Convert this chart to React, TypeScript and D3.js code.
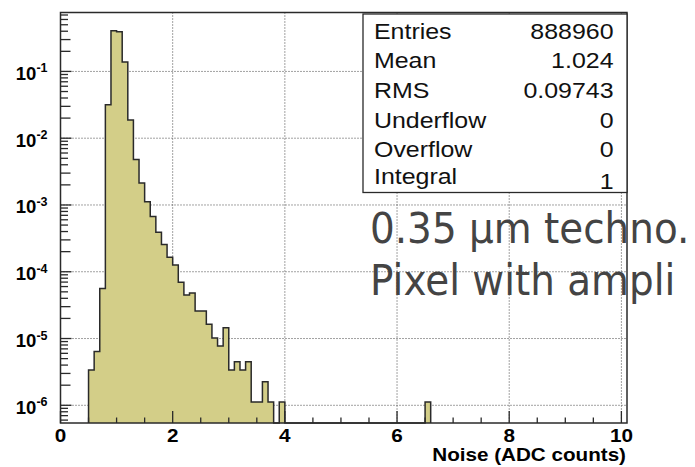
import React from "react";
import * as d3 from "d3";

// ---- data ----
const binLowEdges = [
  0.5, 0.6, 0.7, 0.8, 0.9, 1.0, 1.1, 1.2, 1.3, 1.4, 1.5, 1.6, 1.7, 1.8, 1.9,
  2.0, 2.1, 2.2, 2.3, 2.4, 2.5, 2.6, 2.7, 2.8, 2.9, 3.0, 3.1, 3.2, 3.3, 3.4,
  3.5, 3.6, 3.7, 3.8, 3.9, 6.5,
];
const binValues = [
  3.37e-6, 6.4e-6, 5.6e-5, 0.0318, 0.405, 0.393, 0.138, 0.0188, 0.0048, 0.00214,
  0.00112, 6.7e-4, 3.9e-4, 2.55e-4, 1.65e-4, 1.26e-4, 6.95e-5, 4.5e-5, 4.8e-5,
  2.58e-5, 2.58e-5, 1.63e-5, 1.02e-5, 7.7e-6, 1.45e-5, 3.37e-6, 4.5e-6, 3.37e-6,
  4.5e-6, 1.12e-6, 1.12e-6, 2.25e-6, 1.12e-6, 0, 1.12e-6, 1.12e-6,
];
const binWidth = 0.1;
const xDomain = [0, 10.1];
const yDomain = [5.43e-7, 0.763];
const xMajorTicks = [0, 2, 4, 6, 8, 10];
const xMinorTicks = [0.5, 1, 1.5, 2.5, 3, 3.5, 4.5, 5, 5.5, 6.5, 7, 7.5, 8.5, 9, 9.5];
const yDecades = [1e-6, 1e-5, 1e-4, 1e-3, 1e-2, 1e-1];
const statsLabels = ["Entries", "Mean", "RMS", "Underflow", "Overflow", "Integral"];
const statsValues = ["888960", "1.024", "0.09743", "0", "0", "1"];
const xTitle = "Noise (ADC counts)";
const noteLines = ["0.35 \u00b5m techno.", "Pixel with ampli"];

// ---- layout ----
const W = 695;
const H = 467;
const L = 60.5;
const R = 627;
const T = 12.5;
const B = 423;
const FONT = "'Liberation Sans', Arial, Helvetica, sans-serif";
const NOTE_FONT = "'Comic Sans MS', 'DejaVu Sans', sans-serif";
const FILL = "#d3ce88";
const LINE = "#2a2a2a";

export default function App() {
  const x = d3.scaleLinear().domain(xDomain).range([L, R]);
  const y = d3.scaleLog().domain(yDomain).range([B, T]);

  const bins = binLowEdges.map((lo, i) => ({ lo, v: binValues[i] }));
  const yv = (v: number) => (v > 0 ? Math.min(B, y(v)) : B);
  const pts: [number, number][] = [];
  let prevHi = bins[0].lo;
  pts.push([x(bins[0].lo), B]);
  bins.forEach((b) => {
    if (Math.abs(b.lo - prevHi) > 1e-9) {
      pts.push([x(prevHi), B]);
      pts.push([x(b.lo), B]);
    }
    pts.push([x(b.lo), yv(b.v)]);
    pts.push([x(b.lo + binWidth), yv(b.v)]);
    prevHi = b.lo + binWidth;
  });
  pts.push([x(prevHi), B]);
  const line = d3.line();
  const pathD = line(pts) || "";

  // minor log ticks
  const yMinor: { v: number; k: number }[] = [];
  for (let e = -7; e <= 0; e++) {
    for (let k = 2; k <= 9; k++) {
      const v = k * Math.pow(10, e);
      if (v > yDomain[0] && v < yDomain[1]) yMinor.push({ v, k });
    }
  }

  const sx = 1.15;
  const titleSx = 1.18;
  const statsSx = 1.16;
  const noteSx = 0.905;
  const statRowY = [38.5, 68, 97.5, 127.5, 156.5, 183.5];

  return (
    <svg
      width={W}
      height={H}
      viewBox={`0 0 ${W} ${H}`}
      style={{ position: "absolute", left: 0, top: 0, background: "#fff" }}
    >
      <rect x={0} y={0} width={W} height={H} fill="#fff" />
      {/* grid */}
      <g stroke="#444" strokeWidth={1} strokeDasharray="1 2">
        {xMajorTicks.map((t) => (
          <line key={"gx" + t} x1={x(t)} x2={x(t)} y1={T} y2={B} />
        ))}
        {yDecades.map((v) => (
          <line key={"gy" + v} x1={L} x2={R} y1={y(v)} y2={y(v)} />
        ))}
      </g>

      {/* histogram */}
      <path d={pathD + "Z"} fill={FILL} stroke="none" />
      <path d={pathD} fill="none" stroke={LINE} strokeWidth={1.5} strokeLinejoin="miter" />

      {/* frame */}
      <rect x={L} y={T} width={R - L} height={B - T} fill="none" stroke={LINE} strokeWidth={1.5} />

      {/* x ticks */}
      <g stroke={LINE} strokeWidth={1.3}>
        {xMajorTicks.map((t) => (
          <line key={"xt" + t} x1={x(t)} x2={x(t)} y1={B} y2={B - 12} />
        ))}
        {xMinorTicks.map((t) => (
          <line key={"xm" + t} x1={x(t)} x2={x(t)} y1={B} y2={B - 5.5} />
        ))}
      </g>
      {/* y ticks */}
      <g stroke={LINE} strokeWidth={1.3}>
        {yDecades.map((v) => (
          <line key={"yt" + v} x1={L} x2={L + 11} y1={y(v)} y2={y(v)} />
        ))}
        {yMinor.map((m) => (
          <line
            key={"ym" + m.v}
            x1={L}
            x2={L + (m.k <= 3 ? 10 : 7.5)}
            y1={y(m.v)}
            y2={y(m.v)}
          />
        ))}
      </g>

      {/* x tick labels */}
      {xMajorTicks.map((t) => (
        <text
          key={"xl" + t}
          transform={`translate(${x(t)},442) scale(${sx},1)`}
          textAnchor="middle"
          fontFamily={FONT}
          fontWeight="bold"
          fontSize={18}
          fill="#000"
        >
          {t}
        </text>
      ))}
      {/* y tick labels */}
      {yDecades.map((v) => {
        const e = Math.round(Math.log10(v));
        return (
          <text
            key={"yl" + v}
            x={47.5}
            y={y(v) + 8.5}
            textAnchor="end"
            fontFamily={FONT}
            fontWeight="bold"
            fontSize={18.5}
            fill="#000"
          >
            <tspan>10</tspan>
            <tspan dy={-7.5} fontSize={12.5}>
              {String(e)}
            </tspan>
          </text>
        );
      })}
      {/* x title */}
      <text
        transform={`translate(626,461) scale(${titleSx},1)`}
        textAnchor="end"
        fontFamily={FONT}
        fontWeight="bold"
        fontSize={17.5}
        fill="#000"
      >
        {xTitle}
      </text>

      {/* stats box */}
      <rect x={363} y={14} width={R - 363} height={178.5} fill="#fff" stroke={LINE} strokeWidth={1.3} />
      {statsLabels.map((s, i) => (
        <text
          key={"sl" + s}
          transform={`translate(374,${statRowY[i]}) scale(${statsSx},1)`}
          fontFamily={FONT}
          fontSize={21.5}
          fill="#111"
        >
          {s}
        </text>
      ))}
      {statsValues.map((s, i) => (
        <text
          key={"sv" + i}
          transform={`translate(613.5,${statRowY[i] + (i === 5 ? 5 : 0)}) scale(${statsSx},1)`}
          textAnchor="end"
          fontFamily={FONT}
          fontSize={21.5}
          fill="#111"
        >
          {s}
        </text>
      ))}

      {/* handwritten note */}
      {noteLines.map((s, i) => (
        <text
          key={"note" + i}
          transform={`translate(370,${i === 0 ? 243 : 295}) scale(${noteSx},1)`}
          fontFamily={NOTE_FONT}
          fontSize={43}
          fill="#444"
        >
          {s}
        </text>
      ))}
    </svg>
  );
}
